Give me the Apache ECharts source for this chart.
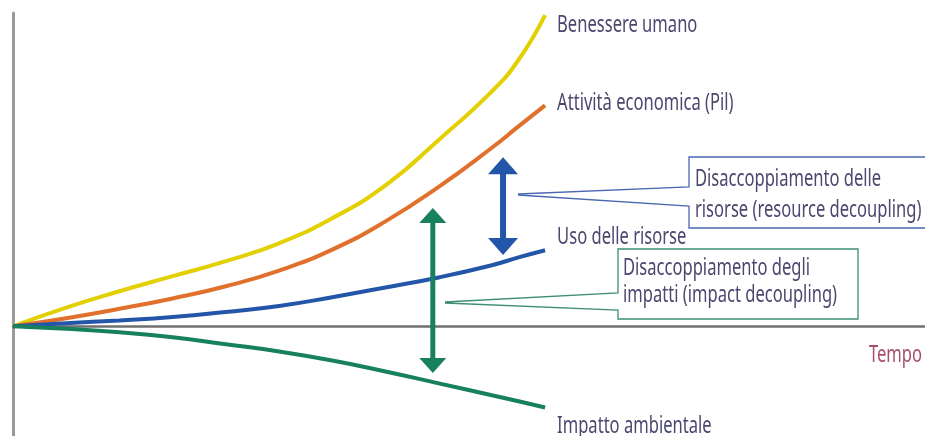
<!DOCTYPE html>
<html>
<head>
<meta charset="utf-8">
<script src="https://cdn.jsdelivr.net/npm/echarts@6/dist/echarts.min.js"></script>
<style>
html,body{margin:0;padding:0;background:#fff;}
#chart{width:925px;height:436px;}
</style>
</head>
<body>
<div id="chart"></div>
<script>
// Time steps (arbitrary units)
const times = [0, 1, 2, 3, 4, 5, 6, 7, 8, 9, 9.5, 10];
// Series values (arbitrary index, 0 = start)
const benessere  = [0, 6, 11.2, 16, 20.8, 26.5, 34.5, 45, 59.5, 75, 85, 99.3];
const attivita   = [0, 2.6, 5.6, 8.9, 12.8, 17.8, 24.5, 33.5, 44.5, 57, 63.8, 70.5];
const usoRisorse = [0, 1, 1.9, 3, 4.6, 6.5, 9.3, 12.4, 15.6, 19.5, 22, 24.3];
const impatto    = [0, -0.8, -1.9, -3.5, -5.7, -8.0, -10.9, -14.4, -18.2, -22, -23.9, -25.9];
// Series names
const seriesNames = ['Benessere umano', 'Attività economica (Pil)', 'Uso delle risorse', 'Impatto ambientale'];
// Decoupling arrows: time, upper value, lower value
const arrowTime = [9.21, 7.89];
const arrowTop = [54.0, 37.8];
const arrowBottom = [22.8, -14.9];
const axisName = 'Tempo';
const callout1 = ['Disaccoppiamento delle', 'risorse (resource decoupling)'];
const callout2 = ['Disaccoppiamento degli', 'impatti (impact decoupling)'];

const FONT = '"Noto Sans", sans-serif';
const FS = 23;
const SX = 0.72;
const TXT = '#4b4870';
const colors = ['#e2d000', '#e0702c', '#2356a8', '#17805f'];
const labelDy = [10, -2, -13, 19];
const arrowColors = ['#2356a8', '#17805f'];

function pairs(vals){ return times.map((t,i)=>[t, vals[i]]); }
const allVals = [benessere, attivita, usoRisorse, impatto];

const lineSeries = allVals.map((vals, i) => ({
  type: 'line',
  name: seriesNames[i],
  data: pairs(vals),
  smooth: 0.5,
  showSymbol: false,
  z: 3,
  lineStyle: { color: colors[i], width: 4 },
  emphasis: { disabled: true }
}));

// end labels, anchored on each series' last point
const endLabelSeries = {
  type: 'custom',
  z: 6,
  silent: true,
  data: allVals.map((vals, i) => [times[times.length - 1], vals[vals.length - 1], i]),
  renderItem: function (params, api) {
    const i = api.value(2);
    const p = api.coord([api.value(0), api.value(1)]);
    return {
      type: 'text',
      x: p[0] + 12,
      y: p[1] + labelDy[i],
      scaleX: SX,
      style: { text: seriesNames[i], fill: TXT, font: FS + 'px ' + FONT, verticalAlign: 'middle', align: 'left' }
    };
  }
};

const arrowData = arrowTime.map((t, i) => [t, arrowTop[i], arrowBottom[i], i]);

const arrowSeries = {
  type: 'custom',
  z: 5,
  silent: true,
  data: arrowData,
  encode: { x: 0, y: [1, 2] },
  renderItem: function (params, api) {
    const idx = api.value(3);
    const top = api.coord([api.value(0), api.value(1)]);
    const bot = api.coord([api.value(0), api.value(2)]);
    const x = top[0];
    const hw = idx === 0 ? 15 : 13.5;
    const hh = idx === 0 ? 17 : 15;
    const sw = idx === 0 ? 6 : 5;
    const c = arrowColors[idx];
    return {
      type: 'group',
      children: [
        { type: 'rect', shape: { x: x - sw / 2, y: top[1] + hh - 1, width: sw, height: bot[1] - top[1] - 2 * hh + 2 }, style: { fill: c } },
        { type: 'polygon', shape: { points: [[x, top[1]], [x - hw, top[1] + hh], [x + hw, top[1] + hh]] }, style: { fill: c } },
        { type: 'polygon', shape: { points: [[x, bot[1]], [x - hw, bot[1] - hh], [x + hw, bot[1] - hh]] }, style: { fill: c } }
      ]
    };
  }
};

function txt(text, x, y, align, fill) {
  return { type: 'text', z: 6, x: x, y: y, scaleX: SX, silent: true,
    style: { text: text, fill: fill || TXT, font: FS + 'px ' + FONT, align: align || 'left', verticalAlign: 'middle' } };
}

const chart = echarts.init(document.getElementById('chart'));
chart.setOption({
  animation: false,
  backgroundColor: '#ffffff',
  grid: { left: 13, right: 0, top: 13, bottom: 0 },
  xAxis: {
    type: 'value', min: 0, max: 17.14,
    axisLine: { show: true, onZero: true, lineStyle: { color: '#707070', width: 2.5 } },
    axisTick: { show: false }, axisLabel: { show: false }, splitLine: { show: false }
  },
  yAxis: {
    type: 'value', min: -35, max: 100,
    axisLine: { show: true, onZero: false, lineStyle: { color: '#9a9a9a', width: 3 } },
    axisTick: { show: false }, axisLabel: { show: false }, splitLine: { show: false }
  },
  graphic: [
    // callout 1 (resource decoupling)
    { type: 'polyline', z: 4, silent: true, shape: { points: [[518,194],[689,187],[689,157],[927,157],[927,228],[689,228],[689,206],[518,195]] },
      style: { stroke: '#4a68b0', lineWidth: 1.3, fill: null } },
    txt(callout1[0], 695, 179),
    txt(callout1[1], 695, 210),
    // callout 2 (impact decoupling)
    { type: 'polyline', z: 4, silent: true, shape: { points: [[445,302],[618,293],[618,249],[858,249],[858,319],[618,319],[618,310],[445,303]] },
      style: { stroke: '#3f8c74', lineWidth: 1.3, fill: null } },
    txt(callout2[0], 623, 268),
    txt(callout2[1], 623, 295),
    // axis name
    txt(axisName, 922, 355, 'right', '#a85068')
  ],
  series: lineSeries.concat([endLabelSeries, arrowSeries])
});
</script>
</body>
</html>
